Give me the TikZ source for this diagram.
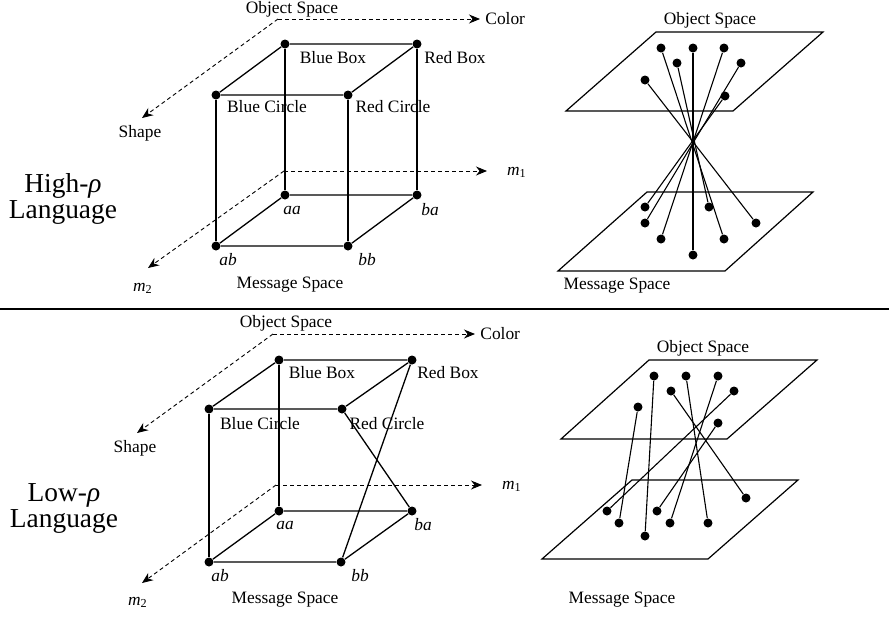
\documentclass[tikz,border=0pt]{standalone}
\usepackage{fontspec}
\setmainfont{Liberation Serif}
\usetikzlibrary{arrows.meta}

\tikzset{
  dot/.style={circle, fill, inner sep=0pt, minimum size=4.5pt},
  edge/.style={line width=0.65pt},
  link/.style={line width=0.55pt},
  axis/.style={dash pattern=on 2pt off 1.5pt, line width=0.45pt, -{Stealth[length=5.5pt,width=4.5pt]}},
  plane/.style={line width=0.6pt},
  txt/.style={font=\fontsize{8.7}{10}\selectfont, inner sep=0pt},
  big/.style={font=\fontsize{13.7}{13}\selectfont, align=center, inner sep=0pt}
}

\begin{document}
\begin{tikzpicture}[x=0.5pt, y=-0.5pt]

  \useasboundingbox (0,0) rectangle (891,617);

  % ---------- High rho ----------
  \node[big] (high) at (63,199) {High-\textit{ρ}\\Language};

  % axes
  \coordinate (hoc) at (278,19);
  \coordinate (hcolor) at (480,19);
  \coordinate (hshape) at (142,118);
  \coordinate (hmc) at (284,171);
  \coordinate (hm1) at (487,171);
  \coordinate (hm2) at (148,268);
  \draw[axis] (hoc) -- (hcolor);
  \draw[axis] (hoc) -- (hshape);
  \draw[axis] (hmc) -- (hm1);
  \draw[axis] (hmc) -- (hm2);
  \node[txt] (hobjlab) at (292,9) {Object Space};
  \node[txt, anchor=west] (hcolorlab) at (485,19) {Color};
  \node[txt] (hshapelab) at (140,133) {Shape};
  \node[txt] (hm1lab) at (517,172) {\textit{m}\textsubscript{1}};
  \node[txt] (hm2lab) at (143,288) {\textit{m}\textsubscript{2}};
  \node[txt] (hmsglab) at (290,285) {Message Space};

  % cube
  \node[dot] (hbbox) at (285,44) {};
  \node[dot] (hrbox) at (417,44) {};
  \node[dot] (hbcirc) at (216,95) {};
  \node[dot] (hrcirc) at (348,95) {};
  \node[dot] (haa) at (285,195) {};
  \node[dot] (hba) at (417,195) {};
  \node[dot] (hab) at (216,246) {};
  \node[dot] (hbb) at (348,246) {};
  \draw[edge] (hbbox) -- (hrbox) -- (hrcirc) -- (hbcirc) -- (hbbox);
  \draw[edge] (haa) -- (hba) -- (hbb) -- (hab) -- (haa);
  \draw[edge] (hbbox) -- (haa);
  \draw[edge] (hrbox) -- (hba);
  \draw[edge] (hbcirc) -- (hab);
  \draw[edge] (hrcirc) -- (hbb);
  \node[txt] (hbboxlab) at (333,58) {Blue Box};
  \node[txt] (hrboxlab) at (455,58) {Red Box};
  \node[txt] (hbcirclab) at (267,107) {Blue Circle};
  \node[txt] (hrcirclab) at (393,107) {Red Circle};
  \node[txt] (haalab) at (292,210) {\textit{aa}};
  \node[txt] (hbalab) at (430,210) {\textit{ba}};
  \node[txt] (hablab) at (228,260) {\textit{ab}};
  \node[txt] (hbblab) at (367,260) {\textit{bb}};

  % planes
  \draw[plane] (566,111) -- (733,111) -- (823,32) -- (656,32) -- cycle;
  \draw[plane] (558,271) -- (725,271) -- (813,192) -- (647,192) -- cycle;
  \node[txt] (hobjlab2) at (710,20) {Object Space};
  \node[txt] (hmsglab2) at (617,286) {Message Space};
  \foreach \i/\x/\y in {1/661/48, 2/693/48, 3/724/48, 4/677/63, 5/741/63, 6/645/80, 7/725/96}
    \node[dot] (hobj\i) at (\x,\y) {};
  \foreach \i/\x/\y in {1/724/239, 2/693/255, 3/661/239, 4/709/207, 5/645/223, 6/756/223, 7/645/207}
    \node[dot] (hmsg\i) at (\x,\y) {};
  \foreach \i in {1,...,7}
    \draw[link] (hobj\i) -- (hmsg\i);

  % separator
  \draw[line width=0.6pt] (0,309) -- (889,309);

  % ---------- Low rho ----------
  \node[big] (low) at (64,508) {Low-\textit{ρ}\\Language};

  % axes
  \coordinate (loc) at (273,334);
  \coordinate (lcolor) at (475,334);
  \coordinate (lshape) at (137,433);
  \coordinate (lmc) at (276,485);
  \coordinate (lm1) at (482,485);
  \coordinate (lm2) at (142,583);
  \draw[axis] (loc) -- (lcolor);
  \draw[axis] (loc) -- (lshape);
  \draw[axis] (lmc) -- (lm1);
  \draw[axis] (lmc) -- (lm2);
  \node[txt] (lobjlab) at (286,323) {Object Space};
  \node[txt, anchor=west] (lcolorlab) at (480,334) {Color};
  \node[txt] (lshapelab) at (135,448) {Shape};
  \node[txt] (lm1lab) at (512,486) {\textit{m}\textsubscript{1}};
  \node[txt] (lm2lab) at (138,602) {\textit{m}\textsubscript{2}};
  \node[txt] (lmsglab) at (285,600) {Message Space};

  % cube, two vertical edges crossed
  \node[dot] (lbbox) at (279,360) {};
  \node[dot] (lrbox) at (412,360) {};
  \node[dot] (lbcirc) at (209,409) {};
  \node[dot] (lrcirc) at (342,409) {};
  \node[dot] (laa) at (279,511) {};
  \node[dot] (lba) at (412,511) {};
  \node[dot] (lab) at (209,562) {};
  \node[dot] (lbb) at (341,562) {};
  \draw[edge] (lbbox) -- (lrbox) -- (lrcirc) -- (lbcirc) -- (lbbox);
  \draw[edge] (laa) -- (lba) -- (lbb) -- (lab) -- (laa);
  \draw[edge] (lbbox) -- (laa);
  \draw[edge] (lbcirc) -- (lab);
  \draw[edge] (lrbox) -- (lbb);
  \draw[edge] (lrcirc) -- (lba);
  \node[txt] (lbboxlab) at (322,373) {Blue Box};
  \node[txt] (lrboxlab) at (448,373) {Red Box};
  \node[txt] (lbcirclab) at (260,424) {Blue Circle};
  \node[txt] (lrcirclab) at (387,424) {Red Circle};
  \node[txt] (laalab) at (285,525) {\textit{aa}};
  \node[txt] (lbalab) at (423,525) {\textit{ba}};
  \node[txt] (lablab) at (220,576) {\textit{ab}};
  \node[txt] (lbblab) at (360,576) {\textit{bb}};

  % planes
  \draw[plane] (561,439) -- (727,439) -- (817,360) -- (649,360) -- cycle;
  \draw[plane] (542,559) -- (708,559) -- (798,480) -- (632,480) -- cycle;
  \node[txt] (lobjlab2) at (703,348) {Object Space};
  \node[txt] (lmsglab2) at (622,600) {Message Space};
  \foreach \i/\x/\y in {1/638/407, 2/654/376, 3/686/376, 4/718/376, 5/671/391, 6/734/391, 7/718/423}
    \node[dot] (lobj\i) at (\x,\y) {};
  \foreach \i/\x/\y in {1/619/523, 2/645/536, 3/708/523, 4/670/523, 5/746/498, 6/607/511, 7/657/511}
    \node[dot] (lmsg\i) at (\x,\y) {};
  \foreach \i in {1,...,7}
    \draw[link] (lobj\i) -- (lmsg\i);

\end{tikzpicture}
\end{document}
